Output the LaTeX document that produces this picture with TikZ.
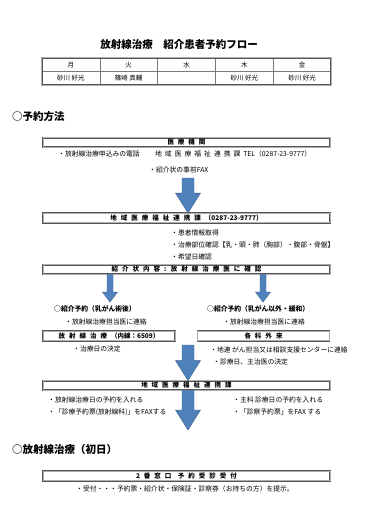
\documentclass[tikz,border=0pt]{standalone}
\usepackage{fontspec}
\setmainfont{Noto Sans CJK JP}
\usepackage{tikz}
\usetikzlibrary{calc, positioning}
\definecolor{arrowblue}{RGB}{79,129,189}
\definecolor{arrowline}{RGB}{56,93,138}
\definecolor{framegray}{RGB}{85,85,85}
\definecolor{bevelgray}{RGB}{175,175,175}
\definecolor{gridgray}{RGB}{120,120,120}
\newcommand{\notefont}{\fontsize{6.8}{8}\selectfont}
\newcommand{\telfont}{\fontsize{6.8}{8}\selectfont\spaceskip=3pt\relax}
\newcommand{\spacedfont}{\fontsize{6.5}{8}\selectfont\bfseries\spaceskip=4pt\relax}
% block arrow pointing down: start, end, half shaft, half head, head length
\newcommand{\flowarrow}[5]{%
  \fill[arrowblue, draw=arrowline, line width=0.4pt] let \p1=(#1), \p2=(#2) in
    (\x1-#3,\y1) -- (\x1+#3,\y1) -- (\x1+#3,\y2+#5) -- (\x1+#4,\y2+#5)
    -- (\x1,\y2) -- (\x1-#4,\y2+#5) -- (\x1-#3,\y2+#5) -- cycle;}
\tikzset{
  deskbox/.style={rectangle, draw=framegray, double=bevelgray, double distance=0.9pt,
    fill=white, minimum width=287pt, minimum height=9.5pt, inner sep=0pt, font=\spacedfont},
  halfbox/.style={deskbox, minimum width=132pt},
  daycell/.style={rectangle, draw=gridgray, line width=0.3pt, minimum width=57.8pt,
    minimum height=13.5pt, inner sep=0pt, font=\fontsize{6.5}{8}\selectfont},
  tableframe/.style={draw=framegray, double=bevelgray, double distance=0.8pt},
  note/.style={anchor=west, inner sep=0pt, font=\notefont},
  boldnote/.style={note, font=\notefont\bfseries},
  heading/.style={anchor=west, inner sep=0pt, font=\fontsize{10.5}{12}\selectfont\bfseries}
}
\begin{document}
\begin{tikzpicture}[x=1pt, y=-1pt]
  \useasboundingbox (0,0) rectangle (365,520);

  % Title and duty table
  \node[font=\fontsize{10.5}{12}\selectfont\bfseries] (title) at (179,45) {放射線治療　紹介患者予約フロー};
  \foreach \day/\doc [count=\i] in {月/砂川 好光, 火/篠崎 真輔, 水/{}, 木/砂川 好光, 金/砂川 好光} {
    \node[daycell] (day\i) at ({42+57.8*(\i-0.5)},64.75) {\day};
    \node[daycell] (doc\i) at ({42+57.8*(\i-0.5)},78.25) {\doc};
  }
  \draw[tableframe] (day1.north west) rectangle (doc5.south east);

  % Reservation method
  \node[heading] (method) at (12,117) {○予約方法};
  \node[deskbox] (kikan) at (186.5,142.5) {医 療 機 関};
  \node[note] (tel) at (58,154) {・放射線治療申込みの電話};
  \node[note, font=\telfont] (telno) at (155,154) {地 域 医 療 福 祉 連 携 課 TEL（0287-23-9777）};
  \node[note] (fax) at (149,170) {・紹介状の事前FAX};

  \coordinate (a1top) at (188,178);
  \node[deskbox] (renkei1) at (186.5,218) {地 域 医 療 福 祉 連 携 課 （0287-23-9777）};
  \flowarrow{a1top}{renkei1.north -| a1top}{6pt}{12.5pt}{20pt}

  \node[note] (info1) at (171,233) {・患者情報取得};
  \node[note] (info2) at (171,245) {・治療部位確認【乳・頭・肺（胸部）・腹部・骨盤】};
  \node[note] (info3) at (171,257) {・希望日確認};
  \node[deskbox] (naiyo) at (186.5,269.5) {紹 介 状 内 容 : 放 射 線 治 療 医 に 確 認};

  % Two routes
  \coordinate (lefttip) at (110,302);
  \coordinate (righttip) at (263,302);
  \flowarrow{naiyo.south -| lefttip}{lefttip}{3pt}{7.5pt}{10pt}
  \flowarrow{naiyo.south -| righttip}{righttip}{3pt}{7.5pt}{10pt}

  \node[boldnote] (leftroute) at (54,309) {○紹介予約（乳がん術後）};
  \node[note] (leftcall) at (65,322) {・放射線治療担当医に連絡};
  \node[halfbox] (hoshasen) at (109,336) {放 射 線 治 療 （内線：6509）};
  \node[note] (leftdate) at (73,349) {・治療日の決定};

  \node[boldnote] (rightroute) at (207,309) {○紹介予約（乳がん以外・緩和）};
  \node[note] (rightcall) at (223,322) {・放射線治療担当医に連絡};
  \node[halfbox] (gekka) at (263.5,336) {各 科 外 来};
  \node[note] (chiren) at (210,350) {・地連 がん担当又は相談支援センターに連絡};
  \node[note] (rightdate) at (213,362) {・診療日、主治医の決定};

  % Back to the liaison office
  \coordinate (a2top) at (188,345);
  \node[deskbox] (renkei2) at (186.5,385.5) {地 域 医 療 福 祉 連 携 課};
  \flowarrow{a2top}{renkei2.north -| a2top}{6pt}{12.5pt}{20pt}
  \coordinate (a3tip) at (188,430);
  \flowarrow{renkei2.south -| a3tip}{a3tip}{6pt}{12.5pt}{20pt}

  \node[note] (leftbook) at (48,400) {・放射線治療日の予約を入れる};
  \node[note] (leftfax) at (48,412) {・「診療予約票(放射線科)」をFAXする};
  \node[note] (rightbook) at (233,400) {・主科 診療日の予約を入れる};
  \node[note] (rightfax) at (233,412) {・「診察予約票」をFAX する};

  % First day
  \node[heading] (firstday) at (12,450) {○放射線治療（初日）};
  \node[deskbox] (madoguchi) at (186.5,476) {2 番 窓 口　予 約 受 診 受 付};
  \node[note] (uketsuke) at (76,489) {・受付・・・予約票・紹介状・保険証・診察券（お持ちの方）を提示。};
\end{tikzpicture}
\end{document}
